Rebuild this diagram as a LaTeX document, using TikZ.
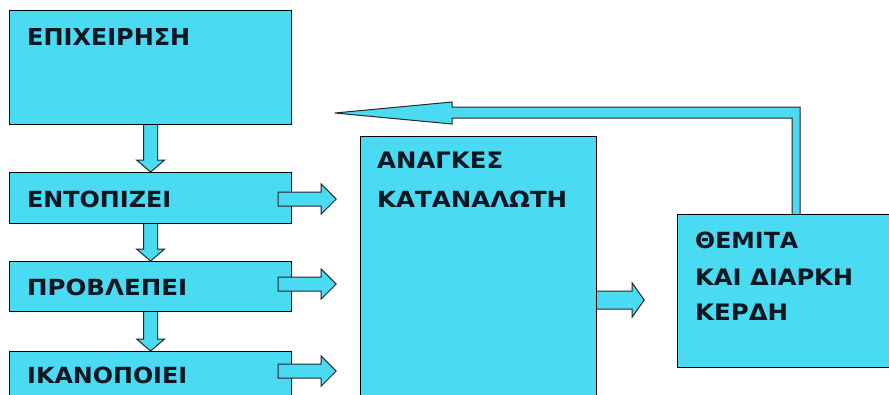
\documentclass[tikz,border=0pt]{standalone}
\usepackage{fontspec}
\setmainfont{DejaVu Sans}
\usetikzlibrary{calc}
\definecolor{boxcyan}{RGB}{74,218,242}
\definecolor{inkdark}{RGB}{14,22,34}
\newcommand{\fitw}[2]{\resizebox{#1pt}{16.5pt}{#2}}
\tikzset{
  box/.style={draw=black, line width=1.2pt, fill=boxcyan, anchor=north west, inner sep=0pt},
  lbl/.style={anchor=base west, inner sep=0pt, text=inkdark, font=\bfseries},
  barrow/.style={fill=boxcyan, draw=black!85, line width=1pt, line join=miter}
}
\begin{document}
\begin{tikzpicture}[x=1pt,y=-1pt]
\clip (0,0) rectangle (889,394);
\fill[white] (0,0) rectangle (889,394);
% boxes
\node[box, minimum width=282pt, minimum height=114pt] (epi) at (9,10) {};
\node[box, minimum width=282pt, minimum height=51pt] (ent) at (9,172) {};
\node[box, minimum width=282pt, minimum height=50pt] (pro) at (9,261) {};
\node[box, minimum width=282pt, minimum height=60pt] (ika) at (9,351) {};
\node[box, minimum width=236pt, minimum height=270pt] (anag) at (360,136) {};
\node[box, minimum width=225pt, minimum height=153pt] (them) at (677,214) {};
% labels
\node[lbl] (tepi) at (27,45) {\resizebox{163pt}{17pt}{ΕΠΙΧΕΙΡΗΣΗ}};
\node[lbl] (tent) at (27,207) {\fitw{144}{ΕΝΤΟΠΙΖΕΙ}};
\node[lbl] (tpro) at (27,295) {\fitw{160}{ΠΡΟΒΛΕΠΕΙ}};
\node[lbl] (tika) at (27,383) {\fitw{160}{ΙΚΑΝΟΠΟΙΕΙ}};
\node[lbl] (tan1) at (377,168) {\fitw{126}{ΑΝΑΓΚΕΣ}};
\node[lbl] (tan2) at (377,207) {\fitw{190}{ΚΑΤΑΝΑΛΩΤΗ}};
\node[lbl] (tth1) at (695,248) {\fitw{103}{ΘΕΜΙΤΑ}};
\node[lbl] (tth2) at (695,285) {\fitw{158}{ΚΑΙ ΔΙΑΡΚΗ}};
\node[lbl] (tth3) at (695,320) {\fitw{93}{ΚΕΡΔΗ}};
% down block arrows
\foreach \a/\b in {epi/ent, ent/pro, pro/ika}{
  \draw[barrow] ($(\a.south)+(-7,0)$) -- ($(\b.north)+(-7,-12)$) -- ($(\b.north)+(-14,-12)$)
    -- (\b.north) -- ($(\b.north)+(14,-12)$) -- ($(\b.north)+(7,-12)$) -- ($(\a.south)+(7,0)$);
}
% right block arrows from left boxes
\foreach \a/\yy in {ent/199, pro/284, ika/371}{
  \coordinate (s\a) at ($(\a.east |- 0,\yy)+(-14,0)$);
  \draw[barrow] ($(s\a)+(0,-7)$) -- ($(s\a)+(43,-7)$) -- ($(s\a)+(43,-15)$) -- ($(s\a)+(58,0)$)
    -- ($(s\a)+(43,15)$) -- ($(s\a)+(43,7)$) -- ($(s\a)+(0,7)$) -- cycle;
}
% arrow from anag to them
\coordinate (sm) at ($(anag.east |- 0,300)$);
\draw[barrow] ($(sm)+(0,-9)$) -- ($(sm)+(35,-9)$) -- ($(sm)+(35,-17)$) -- ($(sm)+(47,0)$)
  -- ($(sm)+(35,17)$) -- ($(sm)+(35,9)$) -- ($(sm)+(0,9)$);
% feedback arrow from them back to epi
\coordinate (fb) at ($(them.north west)+(115,0)$);
\coordinate (ftip) at (335,113);
\draw[barrow] (fb) -- ($(fb |- 0,118)$) -- (452,118) -- (452,124) -- (ftip) -- (452,102) -- (452,107)
  -- ($(fb |- 0,107)+(8,0)$) -- ($(fb)+(8,0)$);
\end{tikzpicture}
\end{document}
